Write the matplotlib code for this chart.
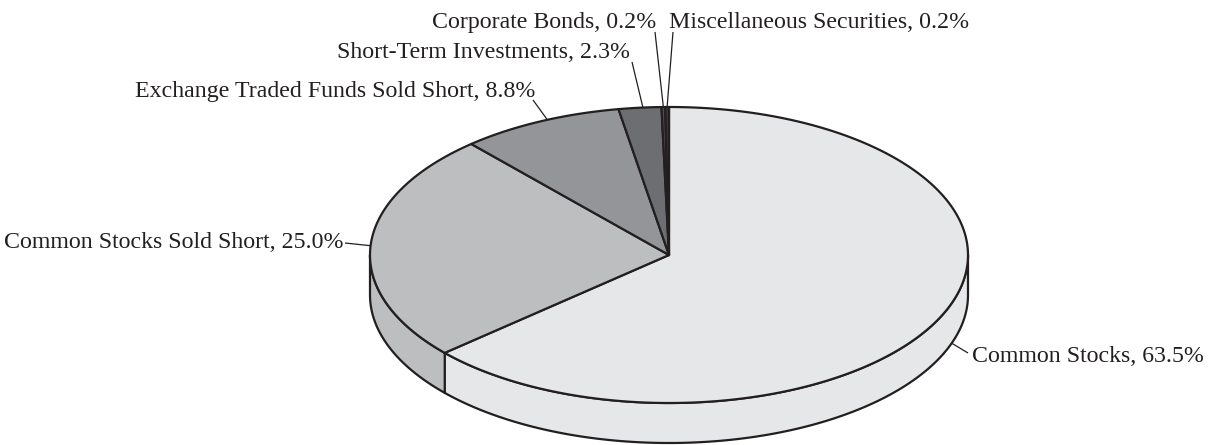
import numpy as np
import matplotlib
matplotlib.use("Agg")
import matplotlib.pyplot as plt
from matplotlib.patches import Polygon

# ---- data ----
categories = ["Common Stocks", "Common Stocks Sold Short", "Exchange Traded Funds Sold Short",
              "Short-Term Investments", "Corporate Bonds", "Miscellaneous Securities"]
values = [63.5, 25.0, 8.8, 2.3, 0.2, 0.2]
colors = ["#e6e7e8", "#bcbec0", "#939598", "#6d6e71", "#4d4d4f", "#3a3a3c"]

# ---- layout (pixel space) ----
W, H = 1210, 445
cx, cy, a, b, depth = 669, 255, 299, 148, 40
edge = "#231f20"
# label text anchor (x, baseline y, ha), leader start, leader target angle, rim
label_layout = [
    (972, 362, "left", (968, 353), 109.0, "lower"),
    (343, 248, "right", (345, 243), None, "top"),
    (535, 97, "right", (533, 100), 336.0, "top"),
    (630, 58, "right", (632, 62), 355.0, "top"),
    (656, 28, "right", (655, 32), None, "top"),
    (669, 28, "left", (673, 32), None, "top"),
]

fig = plt.figure(figsize=(W / 100, H / 100), dpi=100)
ax = fig.add_axes([0, 0, 1, 1])
ax.set_xlim(0, W)
ax.set_ylim(H, 0)
ax.axis("off")


def pt(theta_deg, dz=0.0):
    t = np.radians(theta_deg)
    return cx + a * np.sin(t), cy - b * np.cos(t) + dz


total = sum(values)
bounds = np.concatenate([[0], np.cumsum(values) / total * 360.0])

# side walls (visible front half: 90..270 deg clockwise from top)
for i, v in enumerate(values):
    s, e = bounds[i], bounds[i + 1]
    lo, hi = max(s, 90), min(e, 270)
    if hi <= lo:
        continue
    th = np.linspace(lo, hi, 200)
    top = np.array([pt(t) for t in th])
    bot = np.array([pt(t, depth) for t in th[::-1]])
    poly = Polygon(np.vstack([top, bot]), closed=True, facecolor=colors[i],
                   edgecolor=edge, linewidth=1.6, joinstyle="round", zorder=1)
    ax.add_patch(poly)

# top wedges
for i, v in enumerate(values):
    s, e = bounds[i], bounds[i + 1]
    th = np.linspace(s, e, max(int((e - s) * 3), 4))
    arc = np.array([pt(t) for t in th])
    pts = np.vstack([[cx, cy], arc])
    poly = Polygon(pts, closed=True, facecolor=colors[i], edgecolor=edge,
                   linewidth=1.6, joinstyle="round", zorder=2)
    ax.add_patch(poly)

# labels + leader lines
for i, (name, v) in enumerate(zip(categories, values)):
    x, y, ha, start, ang, rim = label_layout[i]
    ax.text(x, y, f"{name}, {v:.1f}%", ha=ha, va="baseline",
            fontsize=17.2, family="Liberation Serif", color="#231f20", zorder=5)
    if ang is None:
        ang = (bounds[i] + bounds[i + 1]) / 2
    ex, ey = pt(ang, depth if rim == "lower" else 0)
    ax.plot([start[0], ex], [start[1], ey], color=edge, lw=0.9, zorder=4,
            solid_capstyle="butt")

fig.savefig("out.png", dpi=100)
